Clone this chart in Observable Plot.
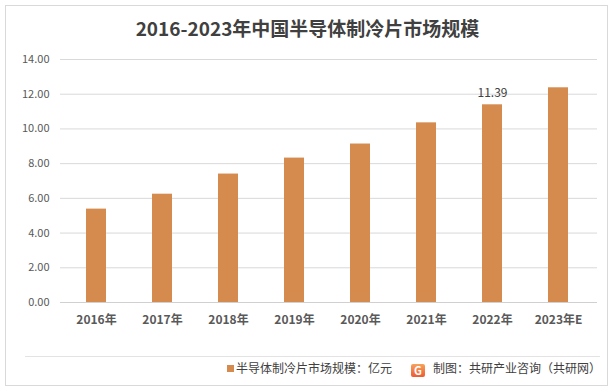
<!DOCTYPE html>
<html>
<head>
<meta charset="utf-8">
<script src="https://cdn.jsdelivr.net/npm/d3@7"></script>
<script src="https://cdn.jsdelivr.net/npm/@observablehq/plot@0.6"></script>
<style>
  html, body { margin: 0; padding: 0; background: #fff; }
  #wrap { position: relative; width: 615px; height: 392px; overflow: hidden; font-family: "Noto Sans CJK SC", "Noto Sans", sans-serif; }
  #frame { position: absolute; left: 5px; top: 5px; width: 603px; height: 381px; border: 1px solid #d9d9d9; box-sizing: border-box; }
  #title { position: absolute; left: 0; width: 615px; top: 16px; text-align: center; font-size: 19px; font-weight: bold; color: #404040; line-height: 24px; }
  #chart { position: absolute; left: 0; top: 45px; }
  #sep { position: absolute; left: 25px; top: 356px; width: 575px; height: 1px; background: #e3e3e3; }
  #legend { position: absolute; left: 227px; top: 360px; font-size: 12px; color: #404040; line-height: 16px; white-space: nowrap; }
  #legend .sw { display: inline-block; width: 7px; height: 7px; background: #d48b4d; margin-right: 2px; vertical-align: 1px; }
  #source { position: absolute; left: 411px; top: 360px; font-size: 12px; color: #404040; line-height: 16px; white-space: nowrap; }
  #source .logo { display: inline-block; width: 14px; height: 13px; vertical-align: -2px; margin-right: 8px; background: linear-gradient(#f6a35a, #ee5a32); color: #fff; font-weight: bold; font-size: 11px; line-height: 13px; text-align: center; border-radius: 2px; }
</style>
</head>
<body>
<div id="wrap">
  <div id="frame"></div>
  <div id="chart"></div>
  <div id="title"></div>
  <div id="sep"></div>
  <div id="legend"><span class="sw"></span><span id="legendText"></span></div>
  <div id="source"><span class="logo">G</span><span id="sourceText"></span></div>
</div>
<script>
const titleText = "2016-2023年中国半导体制冷片市场规模";
const categories = ["2016年", "2017年", "2018年", "2019年", "2020年", "2021年", "2022年", "2023年E"];
const values = [5.38, 6.24, 7.40, 8.32, 9.13, 10.35, 11.39, 12.37];
const labeledCategories = ["2022年"];
const yTicks = [0, 2, 4, 6, 8, 10, 12, 14];
const seriesName = "半导体制冷片市场规模：亿元";
const sourceLabel = "制图：共研产业咨询（共研网）";

document.getElementById("title").textContent = titleText;
document.getElementById("legendText").textContent = seriesName;
document.getElementById("sourceText").textContent = sourceLabel;

const data = categories.map((c, i) => ({category: c, value: values[i]}));
const labeled = data.filter(d => labeledCategories.includes(d.category));

const chart = Plot.plot({
  width: 615,
  height: 300,
  marginLeft: 60,
  marginRight: 18,
  marginTop: 14,
  marginBottom: 43,
  style: {fontFamily: '"Noto Sans CJK SC", "Noto Sans", sans-serif', background: "transparent", color: "#595959"},
  x: {domain: categories, range: [61, 592], paddingInner: 0.7, paddingOuter: 0.35, label: null},
  y: {domain: [0, 14], ticks: yTicks, label: null, tickFormat: d3.format(".2f")},
  marks: [
    Plot.ruleY(yTicks.filter(t => t > 0), {stroke: "#d9d9d9", strokeWidth: 1}),
    Plot.ruleY([0], {stroke: "#d0d0d0", strokeWidth: 1}),
    Plot.barY(data, {x: "category", y: "value", fill: "#d48b4d"}),
    Plot.text(labeled, {x: "category", y: "value", text: d => d3.format(".2f")(d.value), dy: -12, fontSize: 12, fill: "#404040"}),
    Plot.axisY({ticks: yTicks, tickSize: 0, tickPadding: 11, tickFormat: d3.format(".2f"), fontSize: 11, fill: "#595959", label: null}),
    Plot.axisX({tickSize: 0, tickPadding: 13, fontSize: 12, fontWeight: "bold", fill: "#595959", label: null})
  ]
});
document.getElementById("chart").appendChild(chart);
</script>
</body>
</html>
